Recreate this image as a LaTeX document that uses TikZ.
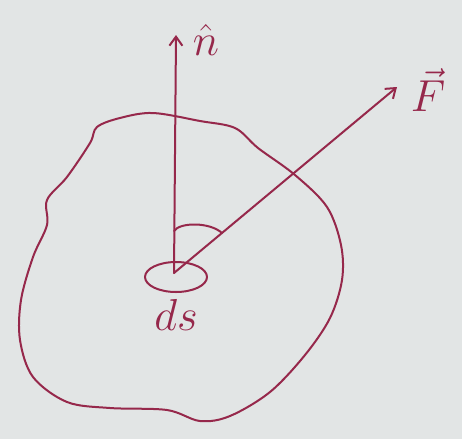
\documentclass[tikz,border=0pt]{standalone}
\usepackage{amsmath}
\usepackage{graphicx}
\usetikzlibrary{arrows.meta,positioning,calc}
\definecolor{inkcolor}{RGB}{150,40,75}
\definecolor{papercolor}{RGB}{226,229,229}
\newcommand{\biglbl}[1]{\scalebox{1.8}{\Huge #1}}

\begin{document}
\begin{tikzpicture}[x=1pt,y=-1pt,
ink/.style={draw=inkcolor,line width=2pt,line cap=round,line join=round},
vec/.style={ink,-{Straight Barb[length=9pt,width=13pt]}},
lbl/.style={text=inkcolor,inner sep=0pt}]

% ================= PAPER =================
\fill[papercolor] (0,0) rectangle (462,439);
\useasboundingbox (0,0) rectangle (462,439);

% ================= SURFACE =================
\draw[ink] plot[smooth cycle,tension=0.55] coordinates {
(153,113) (200,121) (235,128) (258,148) (295,175) (327,207)
(341,245) (342,280) (330,318) (305,355) (270,392) (230,416)
(200,421) (167,410) (110,408) (67,402) (33,377) (20,340)
(21,300) (33,257) (47,225) (47,200) (67,177) (90,143)
(97,127) (120,118)};

% ================= VECTORS =================
\coordinate (O) at (174,273);
\coordinate (ntip) at (176,35);
\coordinate (Ftip) at (397,87);

\draw[vec] (O) -- (ntip);
\draw[vec] (O) -- (Ftip);

% ================= AREA ELEMENT AND ANGLE =================
\draw[ink] ($(O)+(2,4)$) ellipse [x radius=31,y radius=15];
\draw[ink] (174,231) .. controls (180,222) and (210,222) .. (222,233);

% ================= LABELS =================
\node[lbl] (nlabel) at (206,40) {\biglbl{$\hat{n}$}};
\node[lbl] (Flabel) at (428,90) {\biglbl{$\vec{F}$}};
\node[lbl] (dslabel) at (176,315) {\biglbl{$ds$}};

\end{tikzpicture}
\end{document}
